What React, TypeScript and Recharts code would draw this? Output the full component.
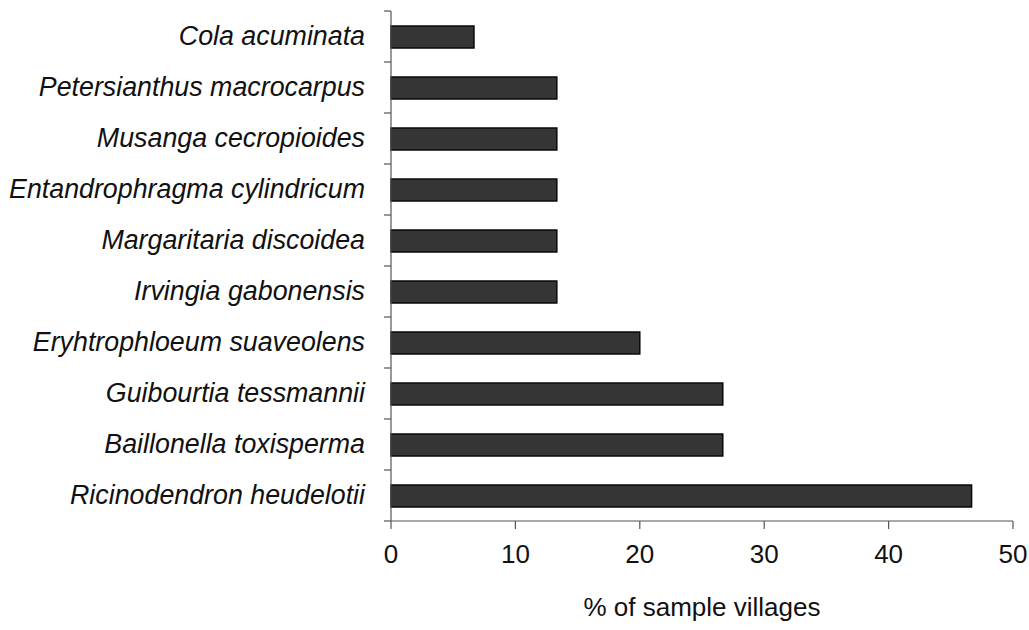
import React from 'react';
import { BarChart, Bar, XAxis, YAxis } from 'recharts';

// species, top to bottom as in the figure
const species = [
  'Cola acuminata',
  'Petersianthus macrocarpus',
  'Musanga cecropioides',
  'Entandrophragma cylindricum',
  'Margaritaria discoidea',
  'Irvingia gabonensis',
  'Eryhtrophloeum suaveolens',
  'Guibourtia tessmannii',
  'Baillonella toxisperma',
  'Ricinodendron heudelotii',
];

// % of sample villages (15 villages -> steps of 6.67)
const villagePct = [6.67, 13.33, 13.33, 13.33, 13.33, 13.33, 20, 26.67, 26.67, 46.67];

const xTicks = [0, 10, 20, 30, 40, 50];

const data = species.map((name, i) => ({ name, pct: villagePct[i] }));

const FONT = '"Liberation Sans", Arial, Helvetica, sans-serif';

// label at band centre, tick marks on the band edges
const SpeciesTick = (props: any) => {
  const { x, y, payload, index } = props;
  const half = 25.5;
  return (
    <g>
      <line x1={x + 1} x2={x + 8} y1={y - half} y2={y - half} stroke="#555" strokeWidth={1.2} />
      {index === species.length - 1 && (
        <line x1={x + 1} x2={x + 8} y1={y + half} y2={y + half} stroke="#555" strokeWidth={1.2} />
      )}
      <text
        x={x - 18}
        y={y}
        dy={8}
        textAnchor="end"
        fontStyle="italic"
        fontSize={26.8}
        fill="#111"
        fontFamily={FONT}
      >
        {payload.value}
      </text>
    </g>
  );
};

const App: React.FC = () => {
  return (
    <div style={{ position: 'absolute', left: 0, top: 0, background: '#fff' }}>
      <BarChart
        width={1029}
        height={630}
        data={data}
        layout="vertical"
        margin={{ top: 11, right: 16, left: 0, bottom: 0 }}
      >
        <XAxis
          type="number"
          domain={[0, 50]}
          ticks={xTicks}
          interval={0}
          height={109}
          stroke="#555"
          strokeWidth={1.2}
          tickSize={8}
          tickMargin={16}
          tick={{ fontSize: 26, fill: '#111', fontFamily: FONT }}
          label={{
            value: '% of sample villages',
            position: 'insideBottom',
            offset: 14,
            fontSize: 26,
            fill: '#111',
            fontFamily: FONT,
          }}
        />
        <YAxis
          type="category"
          dataKey="name"
          width={391}
          stroke="#555"
          strokeWidth={1.2}
          tickLine={false}
          interval={0}
          tick={<SpeciesTick />}
        />
        <Bar
          dataKey="pct"
          barSize={22}
          fill="#353535"
          stroke="#0a0a0a"
          strokeWidth={1.5}
          isAnimationActive={false}
        />
      </BarChart>
    </div>
  );
};

export default App;
